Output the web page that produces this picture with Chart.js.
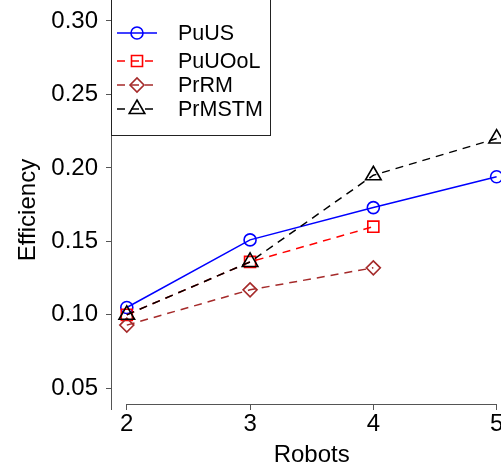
<!DOCTYPE html>
<html>
  <head>
    <script src="https://cdn.jsdelivr.net/npm/chart.js@4.4.1/dist/chart.umd.min.js"></script>
    <style>
      html, body { margin: 0; background: #fff; overflow: hidden; }
      #wrap { width: 522px; height: 472px; }
      #myChart { width: 522px; height: 472px; display: block; }
    </style>
  </head>
  <body>
    <div id="wrap"><canvas id="myChart" width="522" height="472"></canvas></div>

    <script>
      // data
      var robots = [2, 3, 4, 5];
      var puUS = [0.105, 0.151, 0.173, 0.194];
      var puUOoL = [0.100, 0.136, 0.160, null];
      var prRM = [0.093, 0.117, 0.132, null];
      var prMSTM = [0.100, 0.136, 0.195, 0.220];
      var yTicks = [0.05, 0.10, 0.15, 0.20, 0.25, 0.30];

      var FONT = "'Liberation Sans', Arial, Helvetica, sans-serif";
      var AXIS = "#555";

      function pts(vals) {
        return robots.map(function (r, i) { return { x: r, y: vals[i] }; })
          .filter(function (p) { return p.y !== null; });
      }

      function series(label, vals, color, style, radius, dash, order) {
        return {
          label: label,
          data: pts(vals),
          borderColor: color,
          borderWidth: 1.5,
          borderDash: dash,
          pointStyle: style,
          pointRadius: radius,
          pointBorderColor: color,
          pointBackgroundColor: "rgba(0,0,0,0)",
          pointBorderWidth: 1.6,
          fill: false,
          tension: 0,
          order: order,
        };
      }

      // R-like axes and boxed legend
      var rStyle = {
        id: "rStyle",
        afterDraw: function (chart) {
          var ctx = chart.ctx;
          var area = chart.chartArea;
          var xs = chart.scales.x;
          ctx.save();
          ctx.strokeStyle = AXIS;
          ctx.lineWidth = 1;
          ctx.setLineDash([]);
          ctx.beginPath();
          ctx.moveTo(Math.round(area.left) - 0.5, area.top);
          ctx.lineTo(Math.round(area.left) - 0.5, area.bottom + 6);
          ctx.moveTo(xs.getPixelForValue(robots[0]), Math.round(area.bottom) + 0.5);
          ctx.lineTo(xs.getPixelForValue(robots[robots.length - 1]), Math.round(area.bottom) + 0.5);
          ctx.stroke();

          // legend box
          ctx.strokeStyle = "#222";
          ctx.fillStyle = "#fff";
          ctx.fillRect(112, -2, 159, 138);
          ctx.strokeRect(111.5, -2.5, 159, 138);

          var rows = [33, 61, 85, 109];
          chart.data.datasets.forEach(function (ds, i) {
            var y = rows[i];
            ctx.strokeStyle = ds.borderColor;
            ctx.lineWidth = 1.5;
            ctx.setLineDash(ds.borderDash || []);
            ctx.beginPath();
            ctx.moveTo(117, y);
            ctx.lineTo(157, y);
            ctx.stroke();
            ctx.setLineDash([]);
            ctx.lineWidth = ds.pointBorderWidth;
            ctx.fillStyle = "rgba(0,0,0,0)";
            Chart.helpers.drawPoint(ctx, {
              pointStyle: ds.pointStyle,
              radius: ds.pointRadius,
              rotation: 0,
              borderWidth: ds.pointBorderWidth,
            }, 137, y);
            ctx.fillStyle = "#000";
            ctx.font = "21.5px " + FONT;
            ctx.textBaseline = "middle";
            ctx.textAlign = "left";
            ctx.fillText(ds.label, 178, y + 1);
          });
          ctx.restore();
        },
      };

      var ctx = document.getElementById("myChart").getContext("2d");
      var myChart = new Chart(ctx, {
        type: "line",
        data: {
          datasets: [
            series("PuUS", puUS, "#0000ff", "circle", 6, [], 4),
            series("PuUOoL", puUOoL, "#ff0000", "rect", 7.8, [8, 6], 3),
            series("PrRM", prRM, "#a52a2a", "rectRot", 7, [8, 6], 2),
            series("PrMSTM", prMSTM, "#000000", "triangle", 9, [8, 6], 1),
          ],
        },
        options: {
          responsive: false,
          maintainAspectRatio: false,
          animation: false,
          devicePixelRatio: 1,
          layout: { padding: { top: 16, right: 2, bottom: 0, left: 0 } },
          plugins: { legend: { display: false }, tooltip: { enabled: false } },
          scales: {
            x: {
              type: "linear",
              min: 1.88,
              max: 5.12,
              afterBuildTicks: function (scale) {
                scale.ticks = robots.map(function (v) { return { value: v }; });
              },
              afterFit: function (scale) {
                scale.height = 68;
                scale.paddingLeft = 0;
                scale.paddingRight = 0;
              },
              border: { display: false },
              grid: { drawOnChartArea: false, drawTicks: true, tickLength: 6, color: AXIS },
              ticks: {
                color: "#000",
                padding: 0,
                maxRotation: 0,
                font: { family: FONT, size: 24 },
                callback: function (v) { return String(v); },
              },
              title: {
                display: true,
                text: "Robots",
                color: "#000",
                font: { family: FONT, size: 24, lineHeight: 1 },
                padding: { top: 0, bottom: 5 },
              },
            },
            y: {
              min: 0.0393,
              max: 0.3034,
              afterBuildTicks: function (scale) {
                scale.ticks = yTicks.map(function (v) { return { value: v }; });
              },
              afterFit: function (scale) {
                scale.width = 112;
                scale.paddingTop = 0;
                scale.paddingBottom = 0;
              },
              border: { display: false },
              grid: { drawOnChartArea: false, drawTicks: true, tickLength: 6, color: AXIS },
              ticks: {
                color: "#000",
                padding: 8,
                font: { family: FONT, size: 24 },
                callback: function (v) { return v.toFixed(2); },
              },
              title: {
                display: true,
                text: "Efficiency",
                color: "#000",
                font: { family: FONT, size: 24, lineHeight: 1 },
                padding: { top: 16, bottom: 0 },
              },
            },
          },
        },
        plugins: [rStyle],
      });
    </script>
  </body>
</html>
